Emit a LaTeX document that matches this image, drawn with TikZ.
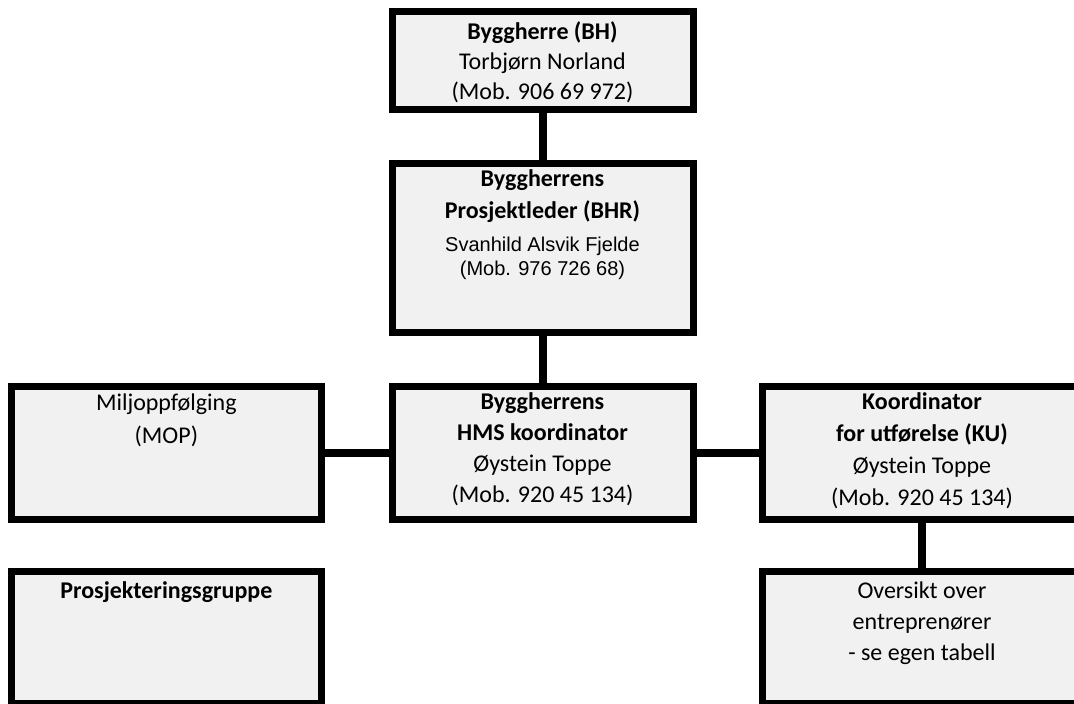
\documentclass[tikz,border=0pt]{standalone}
\usepackage{fontspec}
\setmainfont{Carlito}
\newfontfamily\arialfont{Liberation Sans}
\usetikzlibrary{positioning}
\definecolor{boxgray}{HTML}{F1F1F1}

\tikzset{
  orgbox/.style={draw=black, line width=7pt, fill=boxgray, rectangle, inner sep=0pt},
  link/.style={draw=black, line width=8pt},
  boxtext/.style={align=center, inner sep=0pt, font=\fontsize{24}{32}\selectfont},
}

\begin{document}
\begin{tikzpicture}[x=1pt,y=-1pt]
      \useasboundingbox (0,0) rectangle (1074,704);
      \def \Boxes{
        bh/392/11/693/109.5,
        bhr/392/163.5/693/332,
        hms/392/386.5/693/519.5,
        mop/11.7/386.5/321/519.5,
        ku/762.5/386.5/1081.5/519.5,
        prg/11.7/571.5/321/703.5,
        ent/762.5/571.5/1081.5/703.5}
      \def \Links{
        bh/bhr,
        bhr/hms,
        ku/ent}
      \foreach \id / \xa / \ya / \xb / \yb in \Boxes{
        \node[orgbox, minimum width={(\xb-\xa)*1pt}, minimum height={(\yb-\ya)*1pt}]
          (\id) at ({(\xa+\xb)/2}, {(\ya+\yb)/2}) {};
      }
      \foreach \x / \y in \Links{
        \path[link] (\x.south) -- (\y.north);
      }
      \path[link] (mop.east) -- (hms.west);
      \path[link] (hms.east) -- (ku.west);
      % texts
      \node[boxtext, below=14pt of bh.north, font=\fontsize{24}{30}\selectfont] (bhtext)
        {\textbf{Byggherre (BH)}\\Torbjørn Norland\\(Mob. 906 69 972)};
      \node[boxtext, below=9.5pt of bhr.north] (bhrtitle)
        {\textbf{Byggherrens}\\\textbf{Prosjektleder (BHR)}};
      \node[boxtext, below=77pt of bhr.north, font=\arialfont\fontsize{20}{23.5}\selectfont] (bhrname)
        {Svanhild Alsvik Fjelde\\(Mob. 976 726 68)};
      \node[boxtext, below=9.5pt of hms.north, font=\fontsize{24}{31}\selectfont] (hmstext)
        {\textbf{Byggherrens}\\\textbf{HMS koordinator}\\Øystein Toppe\\(Mob. 920 45 134)};
      \node[boxtext, below=9.5pt of ku.north] (kutext)
        {\textbf{Koordinator}\\\textbf{for utførelse (KU)}\\Øystein Toppe\\(Mob. 920 45 134)};
      \node[boxtext, below=10.5pt of mop.north, font=\fontsize{24}{33}\selectfont] (moptext)
        {Miljoppfølging\\(MOP)};
      \node[boxtext, below=13pt of prg.north] (prgtext)
        {\textbf{Prosjekteringsgruppe}};
      \node[boxtext, below=13.5pt of ent.north, font=\fontsize{24}{31}\selectfont] (enttext)
        {Oversikt over\\entreprenører\\- se egen tabell};
    \end{tikzpicture}
\end{document}
